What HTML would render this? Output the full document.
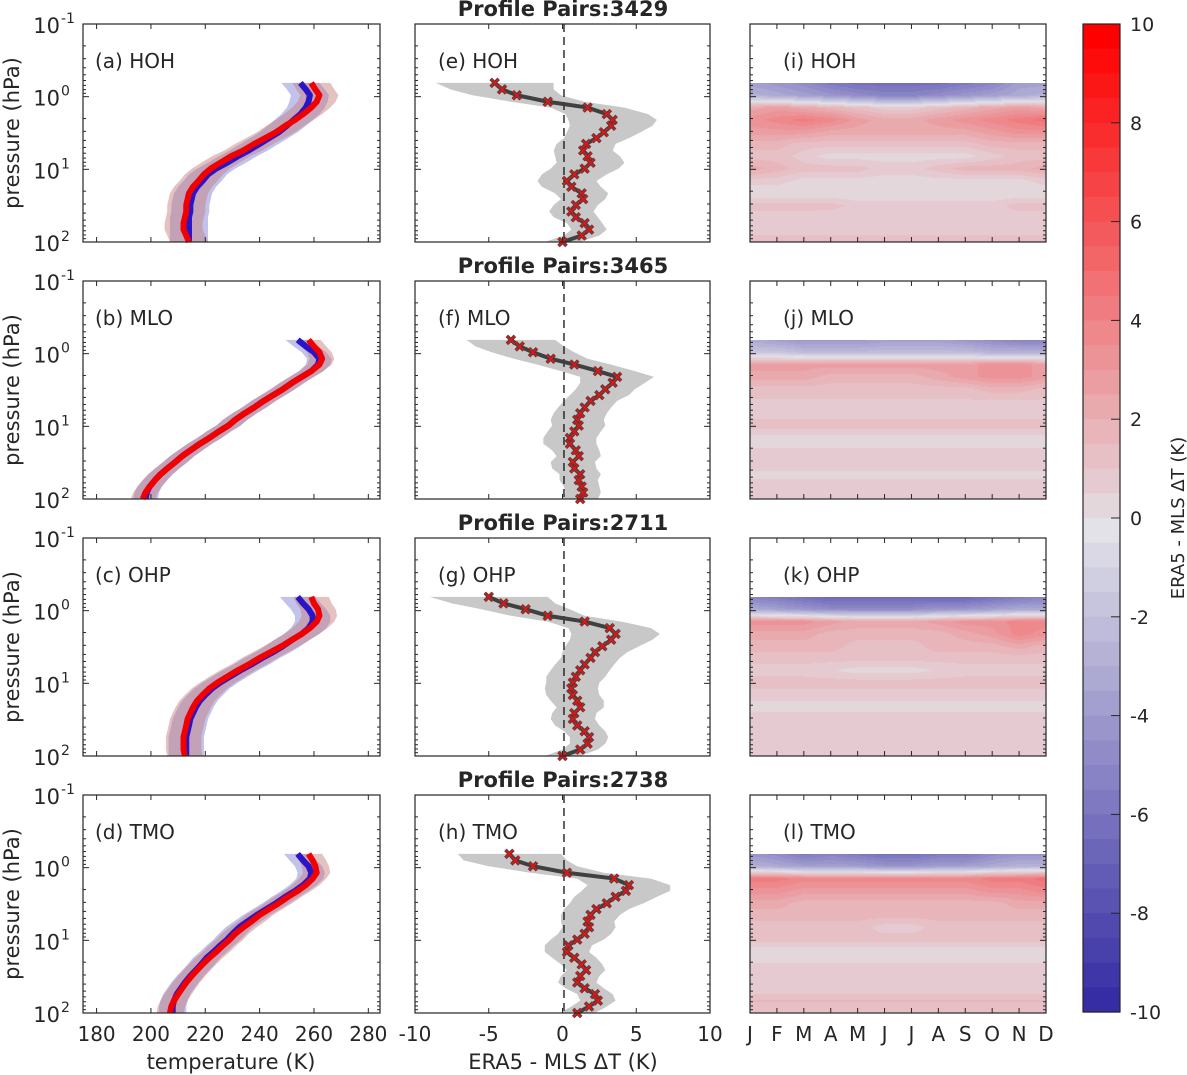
<!DOCTYPE html>
<html><head><meta charset="utf-8">
<style>
html,body{margin:0;padding:0;background:#fff;}
#wrap{position:relative;width:1187px;height:1075px;overflow:hidden;font-family:"Liberation Sans","DejaVu Sans",sans-serif;}
canvas{position:absolute;}
svg{position:absolute;left:0;top:0;}
text{font-family:"DejaVu Sans","Liberation Sans",sans-serif;fill:#262626;}
</style></head>
<body>
<div id="wrap">
<svg id="s" width="1187" height="1075"></svg>
</div>
<script>
// ---- data ----
const logLevels = [-0.19,-0.10,-0.02,0.07,0.15,0.24,0.32,0.40,0.49,0.57,0.65,0.74,0.82,0.91,0.99,1.07,1.16,1.24,1.33,1.41,1.49,1.58,1.66,1.74,1.83,1.91,2.0];
const sites = ["HOH","MLO","OHP","TMO"];
const pairCounts = ["3429","3465","2711","2738"];
const tempEra = [
 [259,260.5,262,261,259,256,253,249.5,246,242,238,234,229.5,225.5,222,219.5,217.5,215.5,214,213.5,213,213,212.5,212,212,213,214],
 [258,260,262,263,262,259,255.5,252,248.5,245,241.5,238,234.5,231,228.5,225,221.5,218,214.5,211.5,209,206,203.5,201.5,199.5,198,197],
 [259,260,261.5,262,261,258.5,255.5,252,248,244,240,236,232,228,224.5,221.5,219,217,215.5,214.5,213.5,213,212.5,212,212,212,212.5],
 [258,259.5,260.5,261,259.5,257,254,250.5,247,243.5,240,237,234,231,229,226.5,224,221.5,219,217,215,213,211.5,210,208.5,207.5,207]];
const tempMls = [
 [255,257,258.5,258,257,255,252.5,250,247,243.5,240,236,232,228,224,221,219,217,215.5,215,214.5,214.5,214,214,214,214,214],
 [254,257,260,262,261.5,259,255.5,252,248.5,245,241.5,238,234.5,231,228.5,225,221.5,218,214.5,211.5,209,206,203.5,201.5,199.5,198.5,198],
 [254,256,258,259.5,259.5,258,255.5,252,248.5,245,241,237,233,229,225.5,222.5,220,218,216.5,215.5,214.5,214,213.5,213,213,213,213],
 [254,256,258,259,258.5,256,253,249.5,246,242.5,239,235.5,232.5,230,228,225.5,223,220.5,218.5,216.5,214.5,212.5,211,209.5,208.5,208,208]];
const tempSd = [7,4.5,6.5,5];
const dT = [
 [-4.6,-4.1,-3.1,-1.0,1.7,3.0,3.4,3.3,2.8,2.3,1.6,1.4,1.7,1.9,1.5,0.8,0.3,0.6,1.3,1.4,0.9,0.6,0.9,1.5,1.8,1.3,0.0],
 [-3.5,-2.9,-2.0,-0.8,0.8,2.4,3.7,3.4,2.9,2.5,1.9,1.5,1.2,1.0,1.1,0.8,0.5,0.5,0.9,1.1,0.7,0.8,1.2,1.1,1.3,1.4,1.2],
 [-5.0,-4.0,-2.5,-1.0,1.5,3.2,3.6,3.3,2.7,2.2,1.9,1.5,1.2,0.9,0.7,0.6,0.7,1.0,1.2,0.8,0.7,1.0,1.5,1.8,1.7,1.2,0.0],
 [-3.6,-3.2,-2.0,0.3,3.5,4.5,4.3,3.6,3.0,2.3,1.9,1.7,1.8,1.5,1.0,0.4,0.3,0.8,1.3,1.6,1.2,1.0,1.5,2.2,2.4,1.8,1.0]];
const dTsd = [
 [4,3.5,3,2.5,2.5,2.8,3,2.8,2.5,2.2,2,2,2.2,2.3,2.3,2.2,2,2,1.8,1.5,1.5,1.5,1.5,1.2,1.2,1.2,1.2],
 [3,3,2.8,2.5,2.5,2.5,2.5,2.2,2,2,1.8,1.8,1.8,1.8,1.8,1.8,1.8,1.8,1.6,1.5,1.5,1.5,1.4,1.3,1.2,1.2,1.2],
 [4,3.5,3,2.5,2.5,2.8,3,2.8,2.5,2.2,2,2,2,2,1.8,1.8,1.8,1.8,1.6,1.5,1.5,1.5,1.4,1.3,1.2,1.2,1.2],
 [3.5,3.5,3,2.5,2.5,2.8,3,2.8,2.5,2.2,2,1.8,1.8,1.8,1.8,1.6,1.5,1.5,1.4,1.3,1.3,1.3,1.3,1.2,1.2,1.2,1.2]];
const months = ["J","F","M","A","M","J","J","A","S","O","N","D"];
const hmLevels = [-0.19,-0.02,0.15,0.32,0.49,0.65,0.82,0.99,1.16,1.33,1.5,1.66,1.83,2.0];
const hmHOH = [
 [-3.5,-4,-4.5,-5.5,-6,-6,-6,-6,-5.5,-5,-3.5,-3.5],
 [-2.5,-3,-3.5,-4,-4.5,-5,-5,-4.5,-4,-3.5,-3,-2.5],
 [2.5,3,2.5,2,1.5,1,1,1.5,2,2.5,3,2.5],
 [3.5,4,4.5,4,3,2.5,2.5,3,3.5,4,4.5,5],
 [3,3,3,2.5,2.5,2.5,2.5,2.5,2.5,3,3.5,3.5],
 [2,2,1.5,1.5,1.5,1.5,1.5,1.5,1.5,2,2,2],
 [1.5,1.5,1,0.5,0.5,0.5,0.5,0.5,0.5,1,1.5,1.5],
 [2.5,2,1.5,1.5,1.5,1,1,1.5,2,2,2,2.5],
 [1,1,0.5,0.5,0.5,0.5,0.5,0.5,0.5,0.5,0.5,1],
 [0.3,0.3,0.3,0.3,0.3,0.3,0.3,0.3,0.3,0.3,0.3,0.3],
 [1.5,1.5,1.5,1.5,1,1,1,1,1,1,1.5,1.5],
 [1,1,1,0.8,0.8,0.8,0.8,0.8,0.8,0.8,1,1],
 [0.8,0.8,0.8,0.8,0.8,0.8,0.8,0.8,0.8,0.8,0.8,0.8],
 [1.8,1.8,1.8,1.8,1.8,1.8,1.8,1.8,1.8,1.8,1.8,1.8]];
const hmMLO = [
 [-3,-3.5,-4,-4,-4,-3.5,-3.5,-3.5,-4,-4.5,-5,-5],
 [-1.5,-1.5,-2,-2,-2,-2,-2,-2,-2,-2.5,-2.5,-2.5],
 [3,3,3,3,3,3,3,3,3,3.5,3.5,3],
 [2.5,2.5,2.5,2,2,2,2,2.5,3,3.5,3.5,3],
 [1.5,1.5,1.5,1.5,1.5,1.5,1.5,1.5,1.5,2,2,1.5],
 [1.2,1.2,1.2,1.2,1.2,1.2,1.2,1.2,1.2,1.2,1.2,1.2],
 [1,1,1,1,1,1,1,1,1,1,1,1],
 [1.5,1.5,1.5,1.5,1.5,1.5,1.5,1.5,1.5,1.5,1.5,1.5],
 [0.5,0.5,0.5,0.5,0.5,0.5,0.5,0.5,0.5,0.5,0.5,0.5],
 [0.8,0.8,0.8,0.8,0.8,0.8,0.8,0.8,0.8,0.8,0.8,0.8],
 [1.2,1.2,1.2,1.2,1.2,1.2,1.2,1.2,1.2,1.2,1.2,1.2],
 [0.6,0.6,0.6,0.6,0.6,0.6,0.6,0.6,0.6,0.6,0.6,0.6],
 [1,1,1,1,1,1,1,1,1,1,1,1],
 [1.2,1.2,1.2,1.2,1.2,1.2,1.2,1.2,1.2,1.2,1.2,1.2]];
const hmOHP = [
 [-5,-5.5,-6,-6.5,-6.5,-6.5,-6.5,-6.5,-6.5,-6,-5.5,-5],
 [-3,-3.5,-4,-4.5,-4.5,-4.5,-4.5,-4,-4,-3.5,-3,-3],
 [3.5,3.5,3.5,3,2.5,2.5,2.5,3,3.5,3.5,4,4],
 [2.5,2.5,2.5,2,2,2,2,2,2.5,3,4,3.5],
 [2,2,2,2,1.5,1.5,1.5,2,2,2,2.5,2],
 [1.5,1.5,1.5,1.5,1.5,1.5,1.5,1.5,1.5,1.5,1.5,1.5],
 [1,1,1,0.8,0.5,0.5,0.5,0.8,1,1,1,1],
 [1.5,1.5,1.5,1.5,1.5,1.5,1.5,1.5,1.5,1.5,1.5,1.5],
 [1,1,1,1,1,1,1,1,1,1,1,1],
 [0.5,0.5,0.5,0.5,0.5,0.5,0.5,0.5,0.5,0.5,0.5,0.5],
 [1.2,1.2,1.2,1.2,1.2,1.2,1.2,1.2,1.2,1.2,1.2,1.2],
 [0.8,0.8,0.8,0.8,0.8,0.8,0.8,0.8,0.8,0.8,0.8,0.8],
 [1.2,1.2,1.2,1.2,1.2,1.2,1.2,1.2,1.2,1.2,1.2,1.2],
 [0.8,0.8,0.8,0.8,0.8,0.8,0.8,0.8,0.8,0.8,0.8,0.8]];
const hmTMO = [
 [-4,-4.5,-5.5,-5,-5.5,-6,-6,-5.5,-5.5,-4.5,-4,-4],
 [-2.5,-3,-3.5,-3.5,-3.5,-4,-4,-3.5,-3.5,-3,-2.5,-2.5],
 [4.5,4.5,4,4,4,4,4,4,4,4.5,4.5,5],
 [3.5,3.5,3,3,3,3,3,3,3,3.5,3.5,4],
 [2.5,2.5,2,2,2,2,2,2,2,2,2.5,2.5],
 [2,2,2,2,2,2,2,2,2,2,2,2],
 [1.5,1.5,1.5,1.5,1.5,1,1,1.5,1.5,1.5,1.5,1.5],
 [1.5,1.5,1.5,1.5,1.5,1.5,1.5,1.5,1.5,1.5,1.5,1.5],
 [0.3,0.3,0.3,0.3,0.3,0.3,0.3,0.3,0.3,0.3,0.3,0.3],
 [0.8,0.8,0.8,0.8,0.8,0.8,0.8,0.8,0.8,0.8,0.8,0.8],
 [1.2,1.2,1.2,1.2,1.2,1.2,1.2,1.2,1.2,1.2,1.2,1.2],
 [0.8,0.8,0.8,0.8,0.8,0.8,0.8,0.8,0.8,0.8,0.8,0.8],
 [1.8,1.8,1.8,1.8,1.8,1.8,1.8,1.8,1.8,1.8,1.8,1.8],
 [1.2,1.2,1.2,1.2,1.2,1.2,1.2,1.2,1.2,1.2,1.2,1.2]];
const heatmaps = [hmHOH, hmMLO, hmOHP, hmTMO];
const tempTicks = [180,200,220,240,260,280];
const dTicks = [-10,-5,0,5,10];
const cbTicks = [-10,-8,-6,-4,-2,0,2,4,6,8,10];
const dashRef = 0.1;

// ---- layout ----
const NS = "http://www.w3.org/2000/svg";
const svg = document.getElementById('s');
const wrap = document.getElementById('wrap');
const rowTop = [24,281,538,795];
const PH = 218;
const C1 = [83,380], C2 = [415,710], C3 = [750,1046];
function yOf(lp, r){ return rowTop[r] + (lp+1)*PH/3; }
function xT(t){ return C1[0] + (t-175)*(C1[1]-C1[0])/(284.3-175); }
function xD(v){ return C2[0] + (v+10)*(C2[1]-C2[0])/20; }
function xM(i){ return C3[0] + i*(C3[1]-C3[0])/11; }
function mk(tag, attrs, parent){
  const e = document.createElementNS(NS, tag);
  for (const k in attrs) e.setAttribute(k, attrs[k]);
  (parent||svg).appendChild(e); return e;
}
function cmap(v){
  v = Math.max(-10, Math.min(10, v));
  v = Math.round(v*2)/2;
  const mid=[226,226,232], red=[255,0,0], blue=[45,35,160];
  const t = Math.abs(v)/10, end = v>=0?red:blue;
  return [0,1,2].map(i=>Math.round(mid[i]+(end[i]-mid[i])*t));
}
function txt(x,y,s,attrs){
  const t = mk('text', Object.assign({x:x,y:y,'font-size':20},attrs||{}));
  t.textContent = s; return t;
}

function axisBox(x0,x1,r,name){
  const b = mk('rect',{x:x0,y:rowTop[r],width:x1-x0,height:PH,fill:'none',stroke:'#262626','stroke-width':1.2});
  
  
  for (let d=-1; d<2; d++){
    for (let m=1; m<10; m++){
      const y = yOf(d+Math.log10(m), r);
      const L = m===1?6:3;
      mk('line',{x1:x0,x2:x0+L,y1:y,y2:y,stroke:'#262626','stroke-width':1});
      mk('line',{x1:x1-L,x2:x1,y1:y,y2:y,stroke:'#262626','stroke-width':1});
    }
  }
}

for (let r=0; r<4; r++){
  const yb = rowTop[r]+PH;
  const gT = mk('g',{});
  
  
  [[tempMls[r],'rgba(110,110,205,0.42)','mls-band'],[tempEra[r],'rgba(195,120,120,0.45)','era5-band']].forEach(([arr,col,nm])=>{
    let pts=[];
    arr.forEach((t,i)=>pts.push(xT(t+tempSd[r])+','+yOf(logLevels[i],r)));
    for(let i=arr.length-1;i>=0;i--) pts.push(xT(arr[i]-tempSd[r])+','+yOf(logLevels[i],r));
    const p = mk('polygon',{points:pts.join(' '),fill:col},gT);
    
    
  });
  [[tempMls[r],'#2a14c8','mls-line'],[tempEra[r],'#f00000','era5-line']].forEach(([arr,col,nm])=>{
    const p = mk('polyline',{points:arr.map((t,i)=>xT(t)+','+yOf(logLevels[i],r)).join(' '),fill:'none',stroke:col,'stroke-width':6,'stroke-linejoin':'round'},gT);
    
    
  });
  axisBox(C1[0],C1[1],r,'temp-axes-'+r);
  tempTicks.forEach(t=>{ mk('line',{x1:xT(t),x2:xT(t),y1:yb,y2:yb-5,stroke:'#262626'}); mk('line',{x1:xT(t),x2:xT(t),y1:rowTop[r],y2:rowTop[r]+5,stroke:'#262626'}); });
  const la = txt(95,rowTop[r]+44,'('+'abcd'[r]+') '+sites[r]);
  
  
  [-1,0,1,2].forEach(d=>{
    const t = mk('text',{x:60,y:yOf(d,r)+9,'font-size':21,'text-anchor':'end'});
    t.textContent='10';
    const sp = mk('tspan',{x:61,dy:-10,'font-size':14,'text-anchor':'start'},t);
    sp.textContent = String(d);
    
    
  });
  const yl = txt(0,0,'pressure (hPa)',{'font-size':21,'text-anchor':'middle',transform:'translate(19,'+(rowTop[r]+PH/2)+') rotate(-90)'});
  
  

  const gD = mk('g',{});
  
  
  let pts=[];
  dT[r].forEach((v,i)=>pts.push(xD(v+dTsd[r][i])+','+yOf(logLevels[i],r)));
  for(let i=dT[r].length-1;i>=0;i--) pts.push(xD(dT[r][i]-dTsd[r][i])+','+yOf(logLevels[i],r));
  const band = mk('polygon',{points:pts.join(' '),fill:'#c8c8c8'},gD);
  
  
  const dash = mk('line',{x1:xD(dashRef),x2:xD(dashRef),y1:rowTop[r],y2:yb,stroke:'#111','stroke-width':1.3,'stroke-dasharray':'8,5'},gD);
  
  
  const ml = mk('polyline',{points:dT[r].map((v,i)=>xD(v)+','+yOf(logLevels[i],r)).join(' '),fill:'none',stroke:'#404040','stroke-width':4},gD);
  
  
  dT[r].forEach((v,i)=>{
    const x=xD(v), y=yOf(logLevels[i],r), s=4;
    const g = mk('g',{},gD);
    
    
    [['#404040',3.5],['#ee1111',1.6]].forEach(([c,w])=>{
      mk('line',{x1:x-s,y1:y-s,x2:x+s,y2:y+s,stroke:c,'stroke-width':w},g);
      mk('line',{x1:x-s,y1:y+s,x2:x+s,y2:y-s,stroke:c,'stroke-width':w},g);
    });
  });
  axisBox(C2[0],C2[1],r,'diff-axes-'+r);
  dTicks.forEach(t=>{ mk('line',{x1:xD(t),x2:xD(t),y1:yb,y2:yb-5,stroke:'#262626'}); mk('line',{x1:xD(t),x2:xD(t),y1:rowTop[r],y2:rowTop[r]+5,stroke:'#262626'}); });
  const lb = txt(438,rowTop[r]+44,'('+'efgh'[r]+') '+sites[r]);
  
  
  const tt = txt(563,rowTop[r]-8,'Profile Pairs:'+pairCounts[r],{'font-size':21,'font-weight':'bold','text-anchor':'middle',fill:'#000'});
  
  

  const hm = heatmaps[r];
  const top = Math.round(yOf(hmLevels[0],r)), H = yb-top, W = C3[1]-C3[0];
  const cv = document.createElement('canvas');
  cv.width=W; cv.height=H; cv.style.left=C3[0]+'px'; cv.style.top=top+'px';
  
  
  wrap.insertBefore(cv, svg);
  const ctx = cv.getContext('2d'); const img = ctx.createImageData(W,H);
  for (let py=0; py<H; py++){
    const lp = (top+py+0.5-rowTop[r])*3/PH - 1;
    let k=0; while(k<hmLevels.length-2 && lp>hmLevels[k+1]) k++;
    let fy = (lp-hmLevels[k])/(hmLevels[k+1]-hmLevels[k]); fy=Math.max(0,Math.min(1,fy));
    for (let px=0; px<W; px++){
      const mx = px*11/(W-1); let j=Math.min(10,Math.floor(mx)); const fx=mx-j;
      const v = (hm[k][j]*(1-fx)+hm[k][j+1]*fx)*(1-fy) + (hm[k+1][j]*(1-fx)+hm[k+1][j+1]*fx)*fy;
      const c = cmap(v); const o=(py*W+px)*4;
      img.data[o]=c[0]; img.data[o+1]=c[1]; img.data[o+2]=c[2]; img.data[o+3]=255;
    }
  }
  ctx.putImageData(img,0,0);
  axisBox(C3[0],C3[1],r,'heatmap-axes-'+r);
  months.forEach((m,i)=>{ mk('line',{x1:xM(i),x2:xM(i),y1:yb,y2:yb-5,stroke:'#262626'}); mk('line',{x1:xM(i),x2:xM(i),y1:rowTop[r],y2:rowTop[r]+5,stroke:'#262626'}); });
  const lc = txt(783,rowTop[r]+44,'('+'ijkl'[r]+') '+sites[r]);
  
  
}

const bY = rowTop[3]+PH+28;
tempTicks.forEach(t=>{ const e=txt(xT(t),bY,String(t),{'text-anchor':'middle'});
  
   });
dTicks.forEach(t=>{ const e=txt(xD(t),bY,String(t),{'text-anchor':'middle'});
  
   });
months.forEach((m,i)=>{ const e=txt(xM(i),bY,m,{'text-anchor':'middle'});
  
   });
const xt1 = txt(231,1069,'temperature (K)',{'font-size':21,'text-anchor':'middle'});


const xt2 = txt(563,1069,'ERA5 - MLS ΔT (K)',{'font-size':21,'text-anchor':'middle'});



const cbX0=1083, cbX1=1120, cbT=24, cbB=1012;
const cbG = mk('g',{});


for (let i=0;i<40;i++){
  const v = 10 - (i+0.5)*0.5;
  const c = cmap(v);
  const h=(cbB-cbT)/40;
  mk('rect',{x:cbX0,y:cbT+i*h,width:cbX1-cbX0,height:h+0.6,fill:'rgb('+c.join(',')+')'},cbG);
}
mk('rect',{x:cbX0,y:cbT,width:cbX1-cbX0,height:cbB-cbT,fill:'none',stroke:'#262626','stroke-width':1.2},cbG);
cbTicks.forEach(t=>{
  const y = cbT + (10-t)*(cbB-cbT)/20;
  mk('line',{x1:cbX1-9,x2:cbX1,y1:y,y2:y,stroke:'#262626'},cbG);
  const e = txt(1130,y+7,String(t),{'font-size':19});
  
  
});
const cbl = txt(0,0,'ERA5 - MLS ΔT (K)',{'font-size':18,'text-anchor':'middle',transform:'translate(1184,518) rotate(-90)'});


</script>
</body></html>
